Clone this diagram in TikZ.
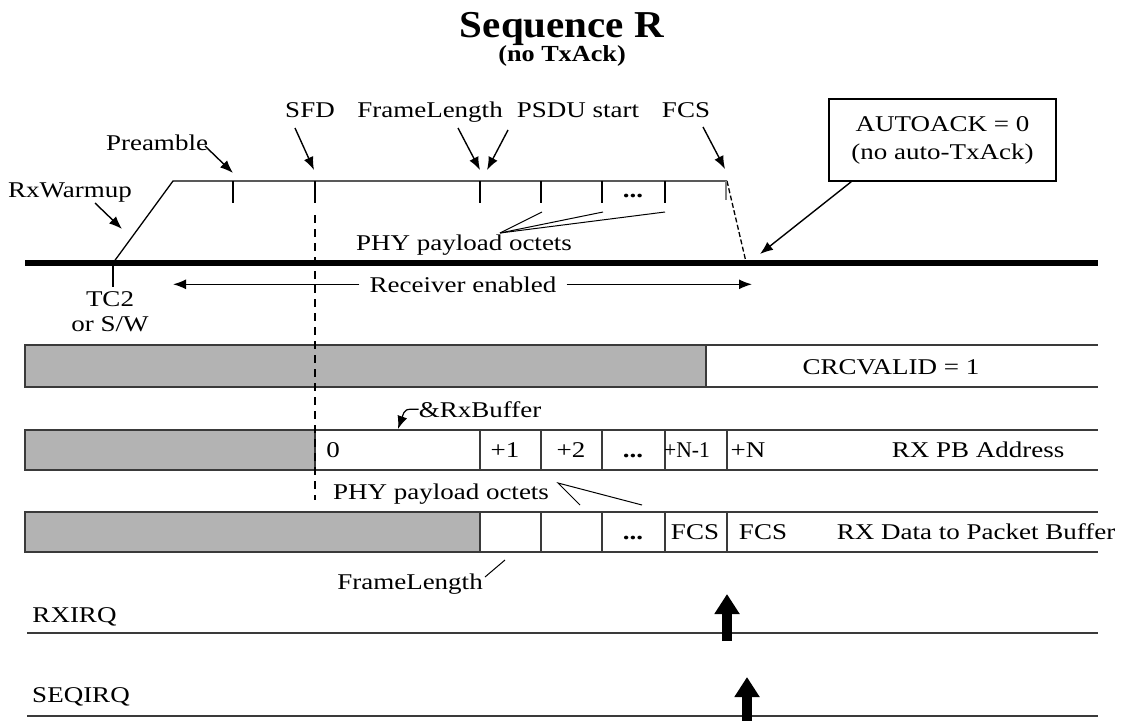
\documentclass[tikz,border=0pt]{standalone}
\usepackage{graphicx}
\usepackage{fontspec}
\setmainfont{Liberation Serif}[FakeStretch=1.2]
\usetikzlibrary{arrows.meta}
\definecolor{barfill}{HTML}{B3B3B3}
\definecolor{rowline}{HTML}{3A3A3A}
\begin{document}
\begin{tikzpicture}[x=1pt,y=-1pt,
  lbl/.style={font=\fontsize{22.5}{28}\selectfont, inner sep=0pt, anchor=base},
  dotsl/.style={font=\fontsize{22.5}{28}\selectfont\bfseries, inner sep=0pt, anchor=base},
  arr/.style={line width=1.4pt, -{Latex[length=13pt,width=10pt]}},
  thinl/.style={line width=1.3pt},
  rowl/.style={line width=2.2pt, draw=rowline},
  cell/.style={line width=1.4pt, draw=rowline},
  irq/.style={line width=10pt, -{Triangle[length=20pt,width=24pt]}},
]
\useasboundingbox (0,0) rectangle (1123,720);

% title
\node[lbl, font=\fontsize{38}{44}\selectfont\bfseries] (title) at (562,37) {\scalebox{0.9}[1]{Sequence R}};
\node[lbl, font=\fontsize{23}{27}\selectfont\bfseries] (sub) at (562,61) {\scalebox{0.95}[1]{(no TxAck)}};

% receiver timeline
\coordinate (tc2) at (113,263);
\coordinate (tl) at (173,181);
\coordinate (tr) at (727,181);
\coordinate (fe) at (746,262);
\draw[line width=6pt] (25,263) -- (1098,263);
\draw[thinl] (tc2) -- (tl) -- (tr);
\draw[thinl, dash pattern=on 5pt off 2.5pt] (tr) -- (fe);
\foreach \x in {233,315,480,541,602,665} \draw[thinl] (\x,181) -- (\x,203);
\draw[thinl, draw=gray] (726,181) -- (726,200);
\draw[thinl] (tc2) -- (113,287);
\node[dotsl] (dots0) at (633,197) {...};

% top labels
\node[lbl] (pre) at (157,150) {Preamble};
\coordinate (preT) at (233,173);
\draw[arr] (205,146) -- (preT);
\node[lbl] (rxw) at (70,197) {RxWarmup};
\coordinate (rxwT) at (122,229);
\draw[arr] (95,203) -- (rxwT);
\node[lbl] (sfd) at (310,117) {SFD};
\coordinate (sfdT) at (314,170);
\draw[arr] (295,128) -- (sfdT);
\node[lbl] (fl) at (430,117) {FrameLength};
\coordinate (flT) at (480,170);
\draw[arr] (458,128) -- (flT);
\node[lbl] (psdu) at (578,117) {PSDU start};
\coordinate (psduT) at (487,170);
\draw[arr] (508,130) -- (psduT);
\node[lbl] (fcs) at (686,117) {FCS};
\coordinate (fcsT) at (725,169);
\draw[arr] (703,127) -- (fcsT);

\node[lbl] (php1) at (464,250) {PHY payload octets};
\coordinate (phpJ) at (500,233);
\draw[line width=1pt] (phpJ) -- (542,212);
\draw[line width=1pt] (phpJ) -- (603,212);
\draw[line width=1pt] (phpJ) -- (665,212);

\node[draw, line width=1.4pt, minimum width=227pt, minimum height=82pt, align=center,
      font=\fontsize{22.5}{28}\selectfont, inner sep=0pt] (auto) at (942.5,140)
      {AUTOACK = 0\\(no auto-TxAck)};
\coordinate (autoT) at (760,254);
\draw[arr] ([xshift=23pt]auto.south west) -- (autoT);

\node[lbl] (tc2t) at (110,306) {TC2};
\node[lbl] (orsw) at (110,331) {or S/W};

\node[lbl] (recv) at (463,292) {Receiver enabled};
\coordinate (rl) at (173,0);
\coordinate (rr) at (752,0);
\draw[arr] ([xshift=-10pt]recv.west) -- (rl |- recv.west);
\draw[arr] ([xshift=10pt]recv.east) -- (rr |- recv.east);

% row 1
\draw[rowl, fill=barfill] (25,345) rectangle (706,387);
\draw[rowl] (706,345) -- (1098,345);
\draw[rowl] (706,387) -- (1098,387);
\node[lbl] (crc) at (891,374) {CRCVALID = 1};

% row 2
\draw[rowl, fill=barfill] (25,430) rectangle (315,470);
\draw[rowl] (315,430) -- (1098,430);
\draw[rowl] (315,470) -- (1098,470);
\foreach \x in {480,541,602,665,727} \draw[cell] (\x,430) -- (\x,470);
\node[lbl] (a0) at (333,457) {0};
\node[lbl] (a1) at (505,457) {+1};
\node[lbl] (a2) at (571,457) {+2};
\node[dotsl] (ad) at (633,457) {...};
\node[lbl] (an1) at (687,457) {\scalebox{0.8}[1]{+N-1}};
\node[lbl] (an) at (748,457) {+N};
\node[lbl] (pba) at (978,457) {RX PB Address};
\node[lbl] (rxb) at (480,417) {\&RxBuffer};
\draw[arr, line width=1.2pt] (rxb.west) .. controls (405,409) .. (398,429);

\node[lbl] (php2) at (441,499) {PHY payload octets};
\coordinate (pp2t) at (558,483);
\draw[line width=1pt] (580,505) -- (pp2t) -- (642,505);

% row 3
\draw[rowl, fill=barfill] (25,512) rectangle (480,552);
\draw[rowl] (480,512) -- (1098,512);
\draw[rowl] (480,552) -- (1098,552);
\foreach \x in {541,602,665,727} \draw[cell] (\x,512) -- (\x,552);
\node[dotsl] (bd) at (633,539) {...};
\node[lbl] (bf1) at (695,539) {FCS};
\node[lbl] (bf2) at (763,539) {FCS};
\node[lbl] (rxd) at (976,539) {RX Data to Packet Buffer};
\node[lbl] (fl2) at (410,589) {FrameLength};
\draw[line width=1pt] (485,577) -- (505,560);

% SFD dashed marker
\draw[thinl, dash pattern=on 8pt off 6pt] (315,215) -- (315,500);

% interrupts
\draw[rowl] (27,633) -- (1098,633);
\node[lbl] (rxirq) at (74.5,622) {RXIRQ};
\coordinate (ra0) at (727,641);
\coordinate (ra1) at (727,594);
\draw[irq] (ra0) -- (ra1);
\draw[rowl] (27,716) -- (1098,716);
\node[lbl] (seqirq) at (81,702) {SEQIRQ};
\coordinate (sa0) at (747,725);
\coordinate (sa1) at (747,677);
\draw[irq] (sa0) -- (sa1);
\end{tikzpicture}
\end{document}
